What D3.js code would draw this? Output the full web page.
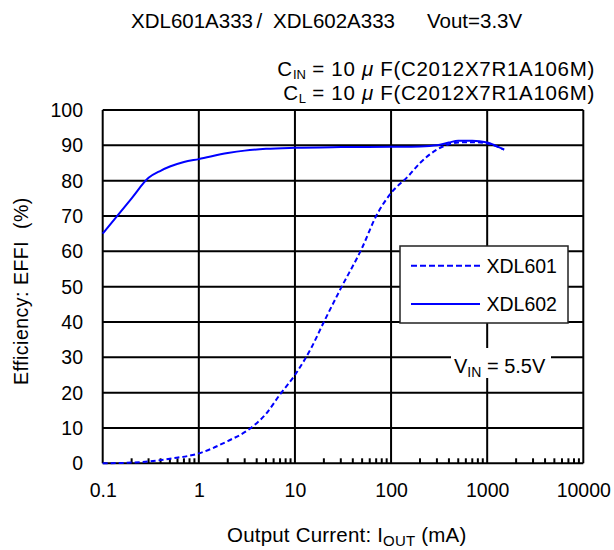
<!DOCTYPE html>
<html><head><meta charset="utf-8">
<script src="https://cdn.jsdelivr.net/npm/d3@7"></script>
<style>
body{margin:0;background:#fff;}
text{font-family:"Liberation Sans",Arial,sans-serif;fill:#000;}
</style></head>
<body><svg id="c" width="614" height="550"></svg>
<script>
// ---- data ----
const xTicks = [0.1, 1, 10, 100, 1000, 10000];
const xTickLabels = ["0.1", "1", "10", "100", "1000", "10000"];
const yTicks = [0, 10, 20, 30, 40, 50, 60, 70, 80, 90, 100];
const seriesNames = ["XDL601", "XDL602"];
const xdl601I = [0.1, 0.2, 0.3, 0.5, 1, 2, 3.2, 5, 7, 10, 15, 20, 30, 50, 70, 100, 150, 200, 300, 400, 500, 700, 1000, 1500];
const xdl601E = [0, 0.2, 0.5, 1.3, 2.8, 6.3, 9.3, 14, 19.5, 25, 33, 40, 49.5, 61, 70, 76.5, 81.2, 85, 88.8, 90.3, 90.8, 90.9, 90.5, 88.8];
const xdl602I = [0.1, 0.2, 0.3, 0.4, 0.5, 0.7, 1, 2, 3, 5, 10, 30, 100, 200, 300, 400, 500, 700, 1000, 1200, 1500];
const xdl602E = [65, 75, 80.8, 82.8, 84, 85.3, 86.1, 87.8, 88.5, 89, 89.3, 89.5, 89.6, 89.7, 90, 90.8, 91.3, 91.3, 90.8, 90, 88.8];

const svg = d3.select("#c");
const x = d3.scaleLog().domain([0.1, 10000]).range([102.7, 583.3]);
const y = d3.scaleLinear().domain([0, 100]).range([463.3, 110]);
const TF = 19.5;

// grid
const g = svg.append("g");
g.selectAll(".hg").data(yTicks).join("line")
  .attr("x1", x(0.1)).attr("x2", x(10000))
  .attr("y1", d => y(d)).attr("y2", d => y(d))
  .attr("stroke", "#000").attr("stroke-width", 2);
g.selectAll(".vg").data(xTicks).join("line")
  .attr("x1", d => x(d)).attr("x2", d => x(d))
  .attr("y1", y(0)).attr("y2", y(100))
  .attr("stroke", "#000").attr("stroke-width", 2);
// minor ticks
const minor = [];
for (let i = 0; i < 5; i++) for (let k = 2; k <= 9; k++) minor.push(xTicks[i] * k);
g.selectAll(".mt").data(minor).join("line")
  .attr("x1", d => x(d)).attr("x2", d => x(d))
  .attr("y1", y(0)).attr("y2", y(0) - 5)
  .attr("stroke", "#000").attr("stroke-width", 2);

// tick labels
svg.append("g").selectAll("text").data(yTicks).join("text")
  .attr("x", 83).attr("y", d => y(d) + 7)
  .attr("text-anchor", "end").attr("font-size", TF)
  .text(d => d);
svg.append("g").selectAll("text").data(xTicks).join("text")
  .attr("x", d => x(d) + 0.5).attr("y", 497)
  .attr("text-anchor", "middle").attr("font-size", TF)
  .text((d, i) => xTickLabels[i]);

// curves
const line = d3.line().x(d => x(d[0])).y(d => y(d[1])).curve(d3.curveMonotoneX);
const d601 = xdl601I.map((v, i) => [v, xdl601E[i]]);
const d602 = xdl602I.map((v, i) => [v, xdl602E[i]]);
svg.append("path").attr("d", line(d601)).attr("fill", "none")
  .attr("stroke", "#0000ff").attr("stroke-width", 2).attr("stroke-dasharray", "5,3");
svg.append("path").attr("d", line(d602)).attr("fill", "none")
  .attr("stroke", "#0000ff").attr("stroke-width", 2);

// legend
const lg = svg.append("g");
lg.append("rect").attr("x", 400).attr("y", 246).attr("width", 168).attr("height", 77)
  .attr("fill", "#fff").attr("stroke", "#222").attr("stroke-width", 1.5);
[265.7, 304].forEach((ly, i) => {
  lg.append("line").attr("x1", 411).attr("x2", 480).attr("y1", ly).attr("y2", ly)
    .attr("stroke", "#0000ff").attr("stroke-width", 2)
    .attr("stroke-dasharray", i === 0 ? "6,3" : null);
  lg.append("text").attr("x", 486.5).attr("y", ly + 7.3).attr("font-size", TF)
    .text(seriesNames[i]);
});

// V_IN label
svg.append("rect").attr("x", 451).attr("y", 348).attr("width", 100).attr("height", 30).attr("fill", "#fff");
const vt = svg.append("text").attr("x", 454).attr("y", 373).attr("font-size", 20);
vt.append("tspan").text("V");
vt.append("tspan").attr("font-size", 14).attr("dy", 4).text("IN");
vt.append("tspan").attr("dy", -4).text(" = 5.5V");

// title
const titleParts = [["XDL601A333", 131], ["/", 256.5], ["XDL602A333", 273], ["Vout=3.3V", 427]];
titleParts.forEach(([s, tx]) => {
  svg.append("text").attr("x", tx).attr("y", 28).attr("font-size", 20.5).text(s);
});

// cap lines
[["IN", 76], ["L", 100]].forEach(([sub, by]) => {
  const t = svg.append("text").attr("x", 595).attr("y", by).attr("text-anchor", "end")
    .attr("font-size", 20.5).style("letter-spacing", "0.7px");
  t.append("tspan").text("C");
  t.append("tspan").attr("font-size", 13).attr("dy", 3).style("letter-spacing", "0px").text(sub);
  t.append("tspan").attr("dy", -3).text(" = 10 ");
  t.append("tspan").attr("font-style", "italic").text("μ");
  t.append("tspan").text(" F(C2012X7R1A106M)");
});

// axis titles
const xt = svg.append("text").attr("x", 227).attr("y", 542)
  .attr("font-size", 20.5).style("letter-spacing", "0.2px");
xt.append("tspan").text("Output Current: I");
xt.append("tspan").attr("font-size", 15).attr("dy", 4).text("OUT");
xt.append("tspan").attr("dy", -4).text(" (mA)");
svg.append("text").attr("transform", "translate(28,385) rotate(-90)")
  .attr("font-size", TF).style("letter-spacing", "0.5px").attr("xml:space", "preserve")
  .text("Efficiency: EFFI  (%)");
</script></body></html>
